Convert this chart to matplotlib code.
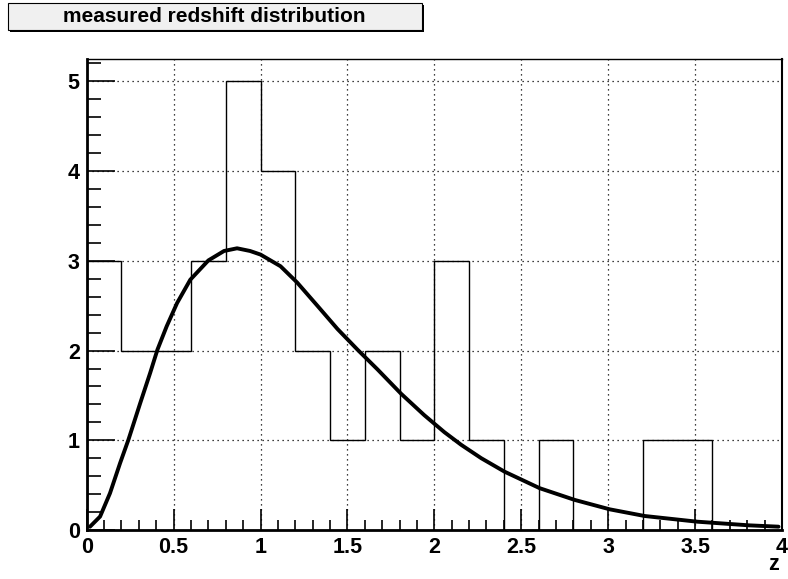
import numpy as np
import matplotlib.pyplot as plt
from matplotlib.patches import Rectangle
from matplotlib.ticker import MultipleLocator

plt.rcParams['font.family'] = ['Liberation Sans', 'DejaVu Sans']
plt.rcParams['font.weight'] = 'bold'

# histogram of measured redshifts, bins of width 0.2 from 0 to 4
bin_edges = [0.0, 0.2, 0.4, 0.6, 0.8, 1.0, 1.2, 1.4, 1.6, 1.8, 2.0,
             2.2, 2.4, 2.6, 2.8, 3.0, 3.2, 3.4, 3.6, 3.8, 4.0]
counts = [3, 2, 2, 3, 5, 4, 2, 1, 2, 1, 3, 1, 0, 1, 0, 0, 1, 1, 0, 0]

# model curve
curve_z = [0.019, 0.077, 0.134, 0.192, 0.24, 0.308, 0.365, 0.407, 0.46,
           0.52, 0.596, 0.70, 0.79, 0.865, 0.94, 1.0, 1.115, 1.21, 1.327,
           1.443, 1.558, 1.673, 1.808, 1.942, 2.058, 2.154, 2.27, 2.404,
           2.606, 2.808, 3.01, 3.21, 3.51, 3.81, 3.98]
curve_v = [0.037, 0.15, 0.41, 0.745, 1.006, 1.415, 1.75, 2.01, 2.27,
           2.53, 2.79, 3.005, 3.11, 3.14, 3.11, 3.07, 2.94, 2.76, 2.50,
           2.24, 2.01, 1.79, 1.52, 1.28, 1.09, 0.95, 0.80, 0.65,
           0.466, 0.335, 0.23, 0.156, 0.093, 0.052, 0.037]

fig = plt.figure(figsize=(7.88, 5.79), dpi=100)
ax = fig.add_axes([86.7 / 788, 1 - 530 / 579, (782 - 86.7) / 788, (530 - 59) / 579])

ax.stairs(counts, bin_edges, color='black', lw=1.0)
ax.plot(curve_z, curve_v, color='black', lw=2.8,
        solid_capstyle='round', solid_joinstyle='round')

ax.set_xlim(0, 4)
ax.set_ylim(0, 5.25)

ax.xaxis.set_major_locator(MultipleLocator(0.5))
ax.xaxis.set_minor_locator(MultipleLocator(0.1))
ax.yaxis.set_major_locator(MultipleLocator(1))
ax.yaxis.set_minor_locator(MultipleLocator(0.2))
ax.set_xticks([0, 0.5, 1, 1.5, 2, 2.5, 3, 3.5, 4])
ax.set_xticklabels(['0', '0.5', '1', '1.5', '2', '2.5', '3', '3.5', '4'])

ax.tick_params(axis='x', which='major', direction='in', length=15, width=1.2,
               labelsize=15.5, pad=5, top=False)
ax.tick_params(axis='x', which='minor', direction='in', length=7, width=1.2, top=False)
ax.tick_params(axis='y', which='major', direction='in', length=20, width=1.2,
               labelsize=15.5, pad=5, right=False)
ax.tick_params(axis='y', which='minor', direction='in', length=10, width=1.2, right=False)
for lab in ax.get_xticklabels() + ax.get_yticklabels():
    lab.set_fontweight('bold')

ax.grid(True, which='major', color='black', lw=0.9, linestyle=(0, (1, 3)))

ax.spines['left'].set_linewidth(2)
ax.spines['bottom'].set_linewidth(2)
ax.spines['right'].set_linewidth(1.5)
ax.spines['top'].set_linewidth(1)

fig.text(779 / 788, 1 - 565 / 579, 'z', ha='right', va='center',
         fontsize=15.5, fontweight='bold')

# title box with shadow
shadow = Rectangle((10 / 788, 1 - 32 / 579), 414 / 788, 27 / 579,
                   transform=fig.transFigure, facecolor='black', edgecolor='black', lw=0)
box = Rectangle((8 / 788, 1 - 30 / 579), 414 / 788, 27 / 579,
                transform=fig.transFigure, facecolor='#f0f0f0', edgecolor='black', lw=0.8)
fig.patches.extend([shadow, box])
fig.text(214 / 788, 1 - 17 / 579, 'measured redshift distribution',
         ha='center', va='center', fontsize=15, fontweight='bold')

fig.savefig('out.png', dpi=100)
